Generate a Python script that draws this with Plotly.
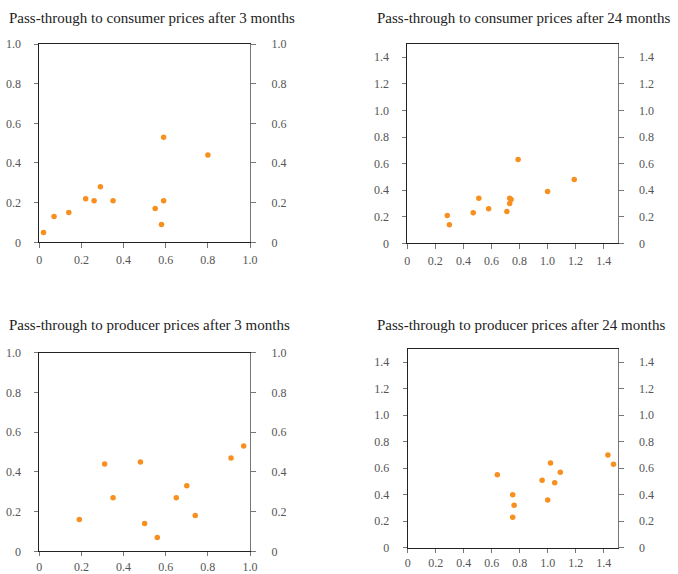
import plotly.graph_objects as go

W, H = 678, 574

titles = [
    "Pass-through to consumer prices after 3 months",
    "Pass-through to consumer prices after 24 months",
    "Pass-through to producer prices after 3 months",
    "Pass-through to producer prices after 24 months",
]

cons3_x = [0.02, 0.07, 0.14, 0.22, 0.26, 0.29, 0.35, 0.55, 0.59, 0.59, 0.58, 0.80]
cons3_y = [0.05, 0.13, 0.15, 0.22, 0.21, 0.28, 0.21, 0.17, 0.53, 0.21, 0.09, 0.44]

cons24_x = [0.285, 0.30, 0.47, 0.51, 0.58, 0.71, 0.73, 0.74, 0.73, 0.79, 1.00, 1.19]
cons24_y = [0.21, 0.14, 0.23, 0.34, 0.26, 0.24, 0.34, 0.33, 0.30, 0.63, 0.39, 0.48]

prod3_x = [0.19, 0.31, 0.35, 0.48, 0.50, 0.56, 0.65, 0.70, 0.74, 0.91, 0.97]
prod3_y = [0.16, 0.44, 0.27, 0.45, 0.14, 0.07, 0.27, 0.33, 0.18, 0.47, 0.53]

prod24_x = [0.64, 0.75, 0.76, 0.75, 0.96, 1.00, 1.02, 1.05, 1.09, 1.43, 1.47]
prod24_y = [0.55, 0.40, 0.32, 0.23, 0.51, 0.36, 0.64, 0.49, 0.57, 0.70, 0.63]

ticks_short = [0, 0.2, 0.4, 0.6, 0.8, 1.0]
ticks_short_text = ["0", "0.2", "0.4", "0.6", "0.8", "1.0"]
ticks_long = [0, 0.2, 0.4, 0.6, 0.8, 1.0, 1.2, 1.4]
ticks_long_text = ["0", "0.2", "0.4", "0.6", "0.8", "1.0", "1.2", "1.4"]

panels = [
    (cons3_x, cons3_y, 1.0, ticks_short, ticks_short_text, (39.3, 250.0), (44.0, 242.3), (7, 18), 1),
    (cons24_x, cons24_y, 1.5, ticks_long, ticks_long_text, (407.3, 617.7), (44.0, 243.3), (375, 18), 1),
    (prod3_x, prod3_y, 1.0, ticks_short, ticks_short_text, (39.3, 250.0), (352.7, 551.3), (7, 325), 0),
    (prod24_x, prod24_y, 1.5, ticks_long, ticks_long_text, (407.7, 617.7), (349.0, 547.7), (375, 325), 0),
]

ORANGE = "#F7901E"
FONT = "Liberation Serif"
TICKFONT = dict(family=FONT, size=12, color="#555555")

fig = go.Figure()
layout = dict(
    template="none",
    width=W, height=H,
    margin=dict(l=0, r=0, t=0, b=0, pad=0, autoexpand=False),
    paper_bgcolor="white", plot_bgcolor="white",
    showlegend=False,
    font=dict(family=FONT),
    annotations=[],
)

for i, (xs, ys, rng, tv, tt, (x0, x1), (y0, y1), (tx, ty), xso) in enumerate(panels):
    n = i + 1
    xa = "x" if n == 1 else f"x{n}"
    ya = "y" if n == 1 else f"y{n}"
    yr = f"y{n + 4}"
    xkey = "xaxis" if n == 1 else f"xaxis{n}"
    ykey = "yaxis" if n == 1 else f"yaxis{n}"
    yrkey = f"yaxis{n + 4}"
    xd = [x0 / W, x1 / W]
    yd = [1 - y1 / H, 1 - y0 / H]

    fig.add_trace(go.Scatter(
        x=xs, y=ys, mode="markers", xaxis=xa, yaxis=ya,
        marker=dict(color=ORANGE, size=5.5, line=dict(width=0)),
        hoverinfo="x+y",
    ))
    # empty trace so the right-hand axis is drawn
    fig.add_trace(go.Scatter(x=[], y=[], xaxis=xa, yaxis=yr, mode="markers",
                             hoverinfo="skip"))

    layout[xkey] = dict(
        domain=xd, anchor=ya, range=[0, rng], automargin=False,
        tickvals=tv, ticktext=tt, ticks="outside", ticklen=5 if xso else 4,
        tickwidth=1,
        tickcolor="#777777", showline=True, linecolor="#222222", linewidth=1,
        mirror=True, showgrid=False, zeroline=False, tickfont=TICKFONT,
        ticklabelstandoff=xso, fixedrange=True,
    )
    layout[ykey] = dict(
        domain=yd, anchor=xa, range=[0, rng], automargin=False,
        tickvals=tv, ticktext=tt, ticks="outside", ticklen=4, tickwidth=1,
        tickcolor="#777777", showline=True, linecolor="#222222", linewidth=1,
        showgrid=False, zeroline=False, tickfont=TICKFONT,
        ticklabelstandoff=11, fixedrange=True,
    )
    layout[yrkey] = dict(
        overlaying=ya, side="right", anchor=xa, range=[0, rng], automargin=False,
        tickvals=tv, ticktext=tt, ticks="outside", ticklen=5, tickwidth=1,
        tickcolor="#777777", showline=True, linecolor="#777777", linewidth=1,
        showgrid=False, zeroline=False, tickfont=TICKFONT,
        ticklabelstandoff=13, fixedrange=True,
    )
    layout["annotations"].append(dict(
        text=titles[i], x=tx / W, y=1 - ty / H, xref="paper", yref="paper",
        xanchor="left", yanchor="middle", showarrow=False,
        font=dict(family=FONT, size=15, color="#222222"),
    ))

fig.update_layout(**layout)
fig.write_html(
    "out.html",
    config={"displayModeBar": False},
    post_script="document.body.style.margin='0';document.body.style.overflow='hidden';",
)
